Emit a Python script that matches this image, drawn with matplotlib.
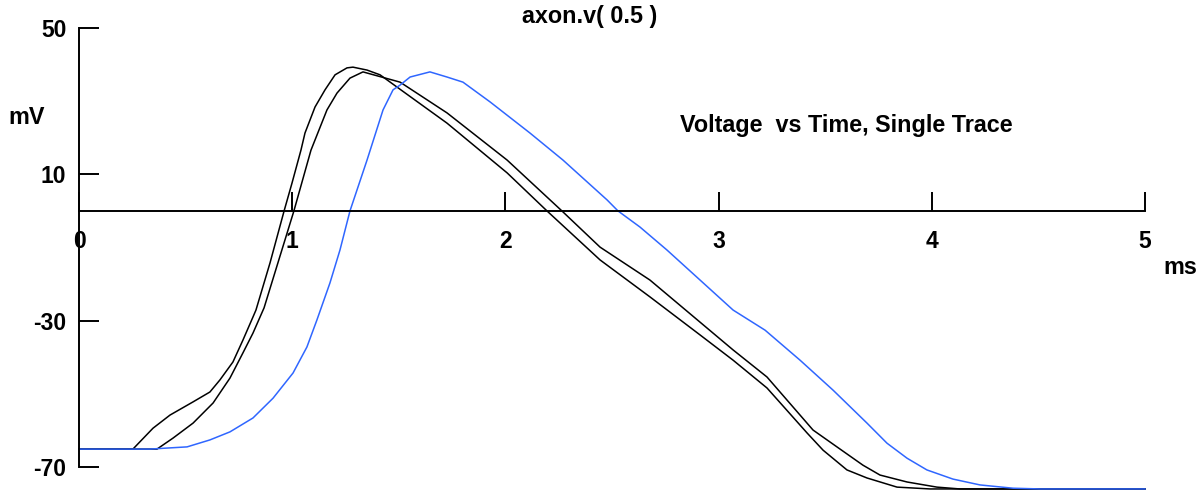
import matplotlib
matplotlib.use("Agg")
import matplotlib.pyplot as plt

plt.rcParams['font.family'] = ['Liberation Sans', 'DejaVu Sans']
plt.rcParams['font.weight'] = 'bold'

# three voltage traces (t in ms, v in mV)
t_a = [0, 0.253, 0.347, 0.427, 0.535, 0.614, 0.661, 0.722, 0.769, 0.816, 0.830, 0.896,
       0.962, 0.999, 1.041, 1.060, 1.107, 1.154, 1.201, 1.257, 1.285, 1.351, 1.412, 1.726,
       2.008, 2.195, 2.444, 2.678, 2.913, 3.068, 3.227, 3.415, 3.490, 3.602, 3.696, 3.837,
       3.992, 5.0]
v_a = [-65.1, -65.1, -59.4, -55.8, -52.2, -49.5, -46.2, -41.3, -35.3, -29.0, -27.1, -14.2,
       0.0, 7.6, 16.6, 21.3, 28.4, 33.1, 37.2, 39.1, 39.3, 38.5, 37.2, 24.0,
       10.4, 0.0, -13.4, -23.5, -33.9, -40.8, -48.4, -60.7, -65.4, -70.8, -73.0, -75.5,
       -76.0, -76.0]

t_b = [0, 0.366, 0.441, 0.535, 0.629, 0.708, 0.769, 0.816, 0.868, 1.008, 1.088, 1.163,
       1.210, 1.271, 1.332, 1.506, 1.726, 2.008, 2.265, 2.444, 2.678, 3.068, 3.227, 3.443,
       3.555, 3.677, 3.757, 3.884, 4.024, 4.132, 5.0]
v_b = [-65.1, -65.1, -62.1, -58.0, -52.5, -45.7, -38.8, -33.4, -26.5, 0.0, 16.6, 27.6,
       32.2, 36.3, 38.0, 35.2, 26.8, 13.9, 0.0, -9.9, -18.9, -38.0, -45.4, -59.9,
       -64.5, -69.5, -72.2, -74.1, -75.5, -76.0, -76.0]

t_c = [0, 0.333, 0.507, 0.614, 0.708, 0.816, 0.910, 1.004, 1.069, 1.116, 1.177, 1.224,
       1.271, 1.351, 1.426, 1.473, 1.506, 1.553, 1.646, 1.726, 1.801, 1.928, 2.115, 2.270,
       2.477, 2.528, 2.631, 2.758, 2.913, 3.068, 3.218, 3.382, 3.537, 3.696, 3.790, 3.884,
       3.977, 4.099, 4.226, 4.381, 4.508, 5.0]
v_c = [-65.1, -65.1, -64.5, -62.6, -60.4, -56.6, -51.2, -44.3, -37.2, -29.8, -19.7, -10.7,
       0.0, 13.9, 27.6, 33.1, 34.4, 36.6, 38.0, 36.6, 35.2, 29.8, 21.3, 13.9,
       3.0, 0.0, -4.4, -10.7, -18.9, -27.1, -32.6, -40.8, -49.0, -58.0, -63.5, -67.6,
       -70.8, -73.3, -74.9, -75.8, -76.0, -76.0]

x_ticks = [0, 1, 2, 3, 4, 5]
y_ticks = [50, 10, -30, -70]

W, H = 1204, 492
fig = plt.figure(figsize=(W / 100, H / 100), dpi=100)
ax = fig.add_axes([79 / W, (H - 467) / H, 1066 / W, 439 / H])

ax.plot(t_a, v_a, color='black', lw=1.1, clip_on=False)
ax.plot(t_b, v_b, color='black', lw=1.1, clip_on=False)
ax.plot(t_c, v_c, color='#2f66ff', lw=1.1, clip_on=False)

ax.set_xlim(0, 5)
ax.set_ylim(-70, 50)
for s in ['top', 'right']:
    ax.spines[s].set_visible(False)
ax.spines['bottom'].set_position(('data', 0))
ax.spines['bottom'].set_linewidth(1.4)
ax.spines['left'].set_linewidth(1.4)

ax.set_xticks(x_ticks)
ax.set_yticks(y_ticks)
ax.set_xticklabels([str(v) for v in x_ticks])
ax.set_yticklabels([str(v) for v in y_ticks])
ax.tick_params(axis='x', direction='in', length=13.5, width=1.4, pad=14, labelsize=16.5)
ax.tick_params(axis='y', direction='in', length=14.5, width=1.4, pad=9, labelsize=16.5)

fig.text(590 / W, 1 - 17 / H, 'axon.v( 0.5 )', ha='center', va='center', fontsize=16.8)
fig.text(680 / W, 1 - 125 / H, 'Voltage  vs Time, Single Trace', ha='left', va='center', fontsize=16.8)
fig.text(8 / W, 1 - 118 / H, 'mV', ha='left', va='center', fontsize=16.8)
fig.text(1163 / W, 1 - 268 / H, 'ms', ha='left', va='center', fontsize=16.8)

fig.savefig('out.png', dpi=100)
